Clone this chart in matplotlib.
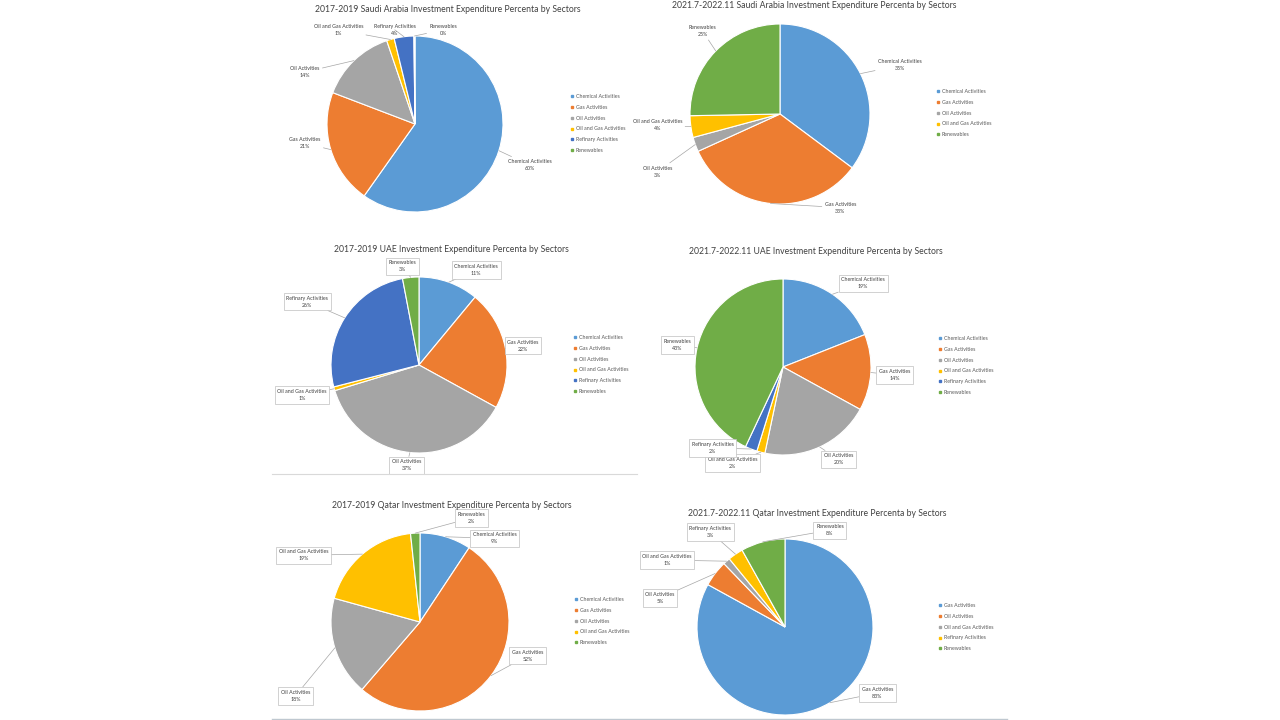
import numpy as np
import matplotlib
matplotlib.use("Agg")
import matplotlib.pyplot as plt
from matplotlib.lines import Line2D

plt.rcParams["font.family"] = ["Lato", "DejaVu Sans"]

W, H = 1280, 720

# Excel office palette
BLUE = "#5B9BD5"
ORANGE = "#ED7D31"
GRAY = "#A5A5A5"
YELLOW = "#FFC000"
DKBLUE = "#4472C4"
GREEN = "#70AD47"

# ---- data -------------------------------------------------------------
sa17_titles = "2017-2019 Saudi Arabia Investment Expenditure Percenta by Sectors"
sa17_sectors = ["Chemical Activities", "Gas Activities", "Oil Activities",
                "Oil and Gas Activities", "Refinary Activities", "Renewables"]
sa17_values = [59.8, 21.0, 14.0, 1.4, 3.6, 0.2]

sa21_titles = "2021.7-2022.11 Saudi Arabia Investment Expenditure Percenta by Sectors"
sa21_sectors = ["Chemical Activities", "Gas Activities", "Oil Activities",
                "Oil and Gas Activities", "Renewables"]
sa21_values = [35.2, 33.0, 2.6, 3.9, 25.3]

uae17_titles = "2017-2019 UAE Investment Expenditure Percenta by Sectors"
uae17_sectors = ["Chemical Activities", "Gas Activities", "Oil Activities",
                 "Oil and Gas Activities", "Refinary Activities", "Renewables"]
uae17_values = [11.0, 22.0, 37.3, 0.7, 26.0, 3.0]

uae21_titles = "2021.7-2022.11 UAE Investment Expenditure Percenta by Sectors"
uae21_sectors = ["Chemical Activities", "Gas Activities", "Oil Activities",
                 "Oil and Gas Activities", "Refinary Activities", "Renewables"]
uae21_values = [19.0, 14.0, 20.3, 1.5, 2.2, 43.0]

qa17_titles = "2017-2019 Qatar Investment Expenditure Percenta by Sectors"
qa17_sectors = ["Chemical Activities", "Gas Activities", "Oil Activities",
                "Oil and Gas Activities", "Renewables"]
qa17_values = [9.3, 52.0, 18.0, 19.0, 1.7]

qa21_titles = "2021.7-2022.11 Qatar Investment Expenditure Percenta by Sectors"
qa21_sectors = ["Gas Activities", "Oil Activities", "Oil and Gas Activities",
                "Refinary Activities", "Renewables"]
qa21_values = [83.0, 4.8, 1.3, 2.8, 8.1]

# ---- layout (pixels, label offsets in pie radii) ----------------------
panels = [
    dict(title=sa17_titles, sectors=sa17_sectors, values=sa17_values,
         colors=[BLUE, ORANGE, GRAY, YELLOW, DKBLUE, GREEN],
         center=(415, 124), r=88, title_xy=(448, 9), legend_xy=(570, 94),
         boxed=False,
         label_pos=[(1.31, -0.47), (-1.25, -0.22), (-1.25, 0.59),
                    (-0.87, 1.07), (-0.23, 1.07), (0.32, 1.07)]),
    dict(title=sa21_titles, sectors=sa21_sectors, values=sa21_values,
         colors=[BLUE, ORANGE, GRAY, YELLOW, GREEN],
         center=(780, 114), r=90, title_xy=(814, 6), legend_xy=(936, 89),
         boxed=False,
         label_pos=[(1.33, 0.54), (0.67, -1.04), (-1.36, -0.64),
                    (-1.36, -0.12), (-0.86, 0.92)]),
    dict(title=uae17_titles, sectors=uae17_sectors, values=uae17_values,
         colors=[BLUE, ORANGE, GRAY, YELLOW, DKBLUE, GREEN],
         center=(419, 365), r=88, title_xy=(451, 249), legend_xy=(573, 335),
         boxed=True,
         label_pos=[(0.65, 1.08), (1.18, 0.22), (-0.14, -1.14),
                    (-1.33, -0.34), (-1.27, 0.72), (-0.19, 1.12)]),
    dict(title=uae21_titles, sectors=uae21_sectors, values=uae21_values,
         colors=[BLUE, ORANGE, GRAY, YELLOW, DKBLUE, GREEN],
         center=(783, 367), r=88, title_xy=(816, 251), legend_xy=(938, 336),
         boxed=True,
         label_pos=[(0.91, 0.95), (1.27, -0.09), (0.63, -1.05),
                    (-0.57, -1.09), (-0.80, -0.92), (-1.20, 0.25)]),
    dict(title=qa17_titles, sectors=qa17_sectors, values=qa17_values,
         colors=[BLUE, ORANGE, GRAY, YELLOW, GREEN],
         center=(420, 622), r=89, title_xy=(452, 505), legend_xy=(574, 597),
         boxed=True,
         label_pos=[(0.84, 0.94), (1.21, -0.38), (-1.40, -0.83),
                    (-1.31, 0.75), (0.58, 1.17)]),
    dict(title=qa21_titles, sectors=qa21_sectors, values=qa21_values,
         colors=[BLUE, ORANGE, GRAY, YELLOW, GREEN],
         center=(785, 627), r=88, title_xy=(817, 513), legend_xy=(938, 603),
         boxed=True,
         label_pos=[(1.05, -0.75), (-1.42, 0.33), (-1.34, 0.76),
                    (-0.85, 1.08), (0.51, 1.10)]),
]

fig = plt.figure(figsize=(W / 100, H / 100), dpi=100)
fig.patch.set_facecolor("white")

for p in panels:
    cx, cy = p["center"]
    r = p["r"]
    half = 2 * r
    ax = fig.add_axes([(cx - half) / W, 1 - (cy + half) / H,
                       2 * half / W, 2 * half / H])
    vals = p["values"]
    wedges, _ = ax.pie(vals, colors=p["colors"], startangle=90,
                       counterclock=False, radius=1.0,
                       wedgeprops=dict(edgecolor="white", linewidth=0.8))
    ax.set_xlim(-2, 2)
    ax.set_ylim(-2, 2)
    ax.set_aspect("equal")
    ax.axis("off")

    total = sum(vals)
    for w, name, v, (lx, ly) in zip(wedges, p["sectors"], vals, p["label_pos"]):
        ang = np.deg2rad((w.theta1 + w.theta2) / 2)
        px, py = np.cos(ang), np.sin(ang)
        txt = "%s\n%d%%" % (name, round(v / total * 100))
        bbox = None
        if p["boxed"]:
            bbox = dict(boxstyle="square,pad=0.5", fc="white",
                        ec="#BFBFBF", lw=0.5)
        ax.annotate(txt, xy=(px, py), xytext=(lx, ly), ha="center",
                    va="center", fontsize=3.8, color="#404040",
                    linespacing=1.5, bbox=bbox,
                    arrowprops=dict(arrowstyle="-", color="#A6A6A6",
                                    lw=0.5, shrinkA=0, shrinkB=0))

    tx, ty = p["title_xy"]
    fig.text(tx / W, 1 - ty / H, p["title"], ha="center", va="center",
             fontsize=6.2, color="#404040")

    handles = [Line2D([], [], marker="s", ls="", markersize=1.6,
                      markerfacecolor=c, markeredgecolor=c)
               for c in p["colors"]]
    lx, ly = p["legend_xy"]
    fig.legend(handles, p["sectors"], loc="upper left",
               bbox_to_anchor=(lx / W, 1 - ly / H), frameon=False,
               fontsize=3.8, labelcolor="#595959", handlelength=0.6,
               handletextpad=0.5, labelspacing=1.1, borderpad=0,
               borderaxespad=0)

# thin separators
fig.add_artist(Line2D([272 / W, 637 / W], [1 - 474 / H, 1 - 474 / H],
                      color="#D9D9D9", lw=0.8))
fig.add_artist(Line2D([272 / W, 1007 / W], [1 - 718.5 / H, 1 - 718.5 / H],
                      color="#BFC8D0", lw=1.0))

fig.savefig("out.png", dpi=100, facecolor="white")
